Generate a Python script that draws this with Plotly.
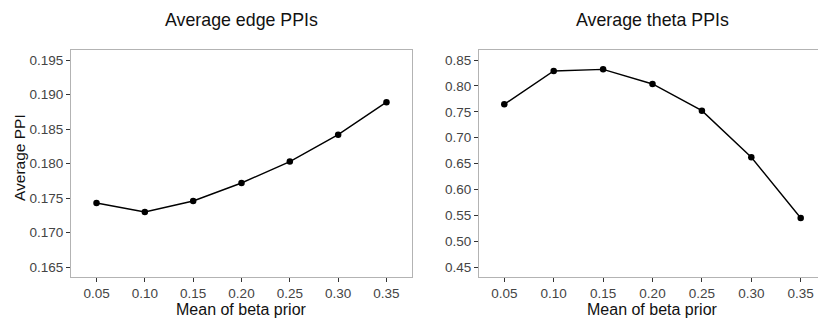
import plotly.graph_objects as go

prior_mean = [0.05, 0.10, 0.15, 0.20, 0.25, 0.30, 0.35]
edge_ppi = [0.1743, 0.1730, 0.1746, 0.1772, 0.1803, 0.1842, 0.1889]
theta_ppi = [0.7645, 0.8288, 0.8320, 0.8037, 0.7522, 0.6622, 0.5452]

left_title = "Average edge PPIs"
right_title = "Average theta PPIs"
x_title = "Mean of beta prior"
y_title = "Average PPI"

W, H = 818, 323
FONT = "Liberation Sans, Arial, sans-serif"
TICK_COL = "#444444"
BORDER = "#b3b3b3"

fig = go.Figure()
line_style = dict(color="black", width=1.4)
marker_style = dict(color="black", size=6.5)

fig.add_trace(go.Scatter(x=prior_mean, y=edge_ppi, mode="lines+markers",
                         line=line_style, marker=marker_style,
                         xaxis="x", yaxis="y", showlegend=False))
fig.add_trace(go.Scatter(x=prior_mean, y=theta_ppi, mode="lines+markers",
                         line=line_style, marker=marker_style,
                         xaxis="x2", yaxis="y2", showlegend=False))

ydom = [46.5 / H, 273 / H]
common_axis = dict(
    showgrid=False, zeroline=False, showline=True, linecolor=BORDER, linewidth=1,
    ticks="outside", ticklen=4, tickwidth=1, tickcolor="#333333",
    tickfont=dict(family=FONT, size=13.5, color=TICK_COL),
)

fig.update_layout(
    width=W, height=H,
    margin=dict(l=0, r=0, t=0, b=0),
    paper_bgcolor="white", plot_bgcolor="white",
    xaxis=dict(domain=[71 / W, 412 / W], range=[0.0236, 0.3764],
               tick0=0.05, dtick=0.05, tickformat=".2f", mirror=True,
               anchor="y", **common_axis),
    yaxis=dict(domain=ydom, range=[0.16367, 0.19645], tick0=0.165, dtick=0.005,
               tickformat=".3f", mirror=True, anchor="x", **common_axis),
    xaxis2=dict(domain=[479 / W, 1.0], range=[0.0244, 0.3675],
                tick0=0.05, dtick=0.05, tickformat=".2f", mirror=True,
                anchor="y2", **common_axis),
    yaxis2=dict(domain=ydom, range=[0.4322, 0.8693], tick0=0.45, dtick=0.05,
                tickformat=".2f", mirror=False, anchor="x2", **common_axis),
)

ann_font_title = dict(family=FONT, size=17.8, color="#111111")
ann_font_axis = dict(family=FONT, size=16, color="#111111")
ann_font_ytitle = dict(family=FONT, size=15.5, color="#111111")
annotations = [
    dict(text=left_title, x=241 / W, y=1 - 20 / H, font=ann_font_title),
    dict(text=right_title, x=652.5 / W, y=1 - 20 / H, font=ann_font_title),
    dict(text=x_title, x=241.5 / W, y=1 - 309.5 / H, font=ann_font_axis),
    dict(text=x_title, x=652 / W, y=1 - 309.5 / H, font=ann_font_axis),
    dict(text=y_title, x=19 / W, y=1 - 158 / H, font=ann_font_ytitle, textangle=-90),
]
for a in annotations:
    a.update(xref="paper", yref="paper", showarrow=False,
             xanchor="center", yanchor="middle")
fig.update_layout(annotations=annotations)

fig.write_html("out.html")
